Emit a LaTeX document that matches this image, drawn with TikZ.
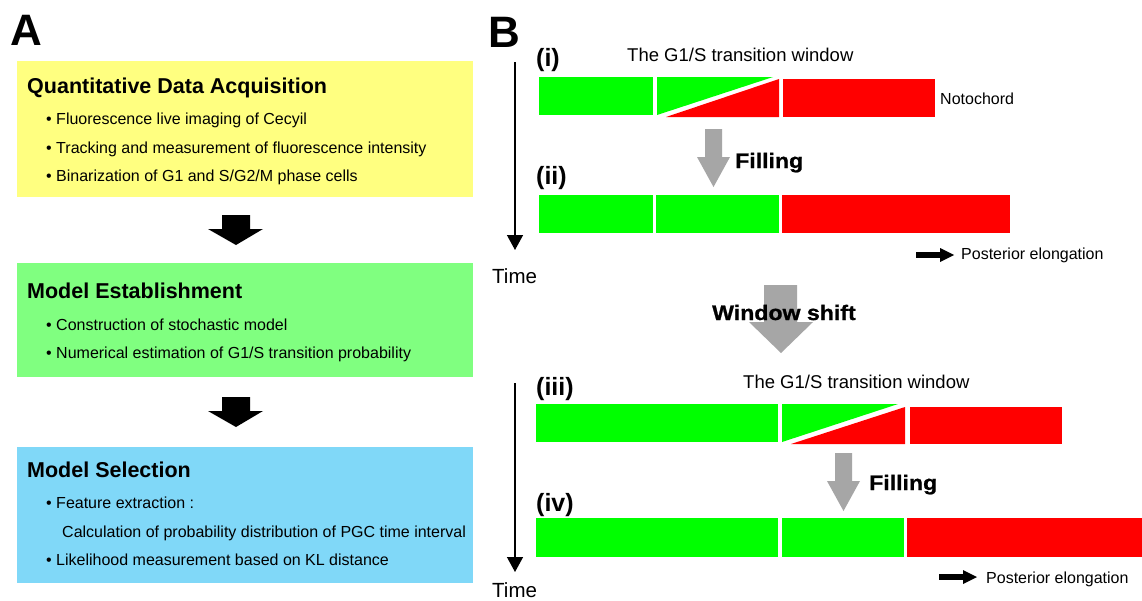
\documentclass[tikz,border=0pt]{standalone}
\usepackage{fontspec}
\setmainfont{Liberation Sans}
\newfontfamily\heavyfont[FakeStretch=1.1,FakeBold=1]{Liberation Sans Bold}
\usetikzlibrary{arrows.meta}
\definecolor{boxyellow}{RGB}{255,255,128}
\definecolor{boxgreen}{RGB}{128,255,128}
\definecolor{boxblue}{RGB}{128,216,248}
\definecolor{cellgreen}{RGB}{0,255,0}
\definecolor{cellred}{RGB}{255,0,0}
\definecolor{arrowgrey}{RGB}{166,166,166}
\tikzset{
  txt/.style={inner sep=0pt, anchor=base west, font=\fontsize{16}{19}\selectfont},
  boxtitle/.style={inner sep=0pt, anchor=base west, font=\fontsize{21.5}{25}\selectfont\bfseries},
  panel/.style={inner sep=0pt, anchor=base west, font=\fontsize{44}{50}\selectfont\bfseries},
  rowlabel/.style={inner sep=0pt, anchor=base west, font=\fontsize{25}{29}\selectfont\bfseries},
  heavylabel/.style={inner sep=0pt, anchor=base west, font=\fontsize{21}{25}\heavyfont},
  windowlabel/.style={inner sep=0pt, anchor=base west, font=\fontsize{18.5}{22}\selectfont},
  timelabel/.style={inner sep=0pt, anchor=base west, font=\fontsize{20.5}{24}\selectfont},
  timearrow/.style={line width=1.4pt, -{Triangle[length=15pt,width=16pt]}},
  blackblock/.style={fill=black},
  greyblock/.style={fill=arrowgrey},
}
\begin{document}
\begin{tikzpicture}[x=1pt,y=-1pt]
\useasboundingbox (0,0) rectangle (1142,600);
\fill[white] (0,0) rectangle (1142,600);

% ---------------- Panel A ----------------
\node[panel] (labA) at (10,45) {A};

\fill[boxyellow] (17,61) rectangle (473,197);
\node[boxtitle] (t1) at (27,93) {Quantitative Data Acquisition};
\node[txt] (b11) at (46,124) {• Fluorescence live imaging of Cecyil};
\node[txt] (b12) at (46,153) {• Tracking and measurement of fluorescence intensity};
\node[txt] (b13) at (46,181) {• Binarization of G1 and S/G2/M phase cells};

\fill[blackblock] (222,215) -- (250,215) -- (250,229) -- (263,229) -- (236,245) -- (208,229) -- (222,229) -- cycle;

\fill[boxgreen] (17,263) rectangle (473,377);
\node[boxtitle] (t2) at (27,298) {Model Establishment};
\node[txt] (b21) at (46,330) {• Construction of stochastic model};
\node[txt] (b22) at (46,358) {• Numerical estimation of G1/S transition probability};

\fill[blackblock] (222,397) -- (250,397) -- (250,411) -- (263,411) -- (236,427) -- (208,411) -- (222,411) -- cycle;

\fill[boxblue] (17,447) rectangle (473,583);
\node[boxtitle] (t3) at (27,477) {Model Selection};
\node[txt] (b31) at (46,508) {• Feature extraction :};
\node[txt] (b32) at (62,537) {Calculation of probability distribution of PGC time interval};
\node[txt] (b33) at (46,565) {• Likelihood measurement based on KL distance};

% ---------------- Panel B ----------------
\node[panel] (labB) at (488,47) {B};

% time axis 1
\coordinate (ta1) at (515,62);
\coordinate (tb1) at (515,250);
\draw[timearrow] (ta1) -- (tb1);
\node[timelabel] (time1) at (492,283) {Time};

% row (i)
\node[rowlabel] (ri) at (536,66) {(i)};
\node[windowlabel] (w1) at (627,61) {The G1/S transition window};
\fill[cellgreen] (539,77) rectangle (653,115);
\fill[cellgreen] (657,77) -- (773,77) -- (657,115) -- cycle;
\fill[cellred] (666,117) -- (779,79) -- (779,117) -- cycle;
\fill[cellred] (783,79) rectangle (935,117);
\node[txt] (noto) at (940,104) {Notochord};

% filling arrow 1
\fill[greyblock] (705,129) -- (722,129) -- (722,157) -- (730,157) -- (713.5,187) -- (697,157) -- (705,157) -- cycle;
\node[heavylabel] (fill1) at (735,168) {Filling};

% row (ii)
\node[rowlabel] (rii) at (536,184) {(ii)};
\fill[cellgreen] (539,195) rectangle (653,233);
\fill[cellgreen] (656,195) rectangle (779,233);
\fill[cellred] (782,195) rectangle (1010,233);

% posterior arrow 1
\fill[black] (916,252) rectangle (941,258);
\fill[black] (940,248) -- (954,255) -- (940,262) -- cycle;
\node[txt] (post1) at (961,259) {Posterior elongation};

% window shift arrow
\fill[greyblock] (764,285) -- (797,285) -- (797,322) -- (813,322) -- (781,353) -- (749,322) -- (764,322) -- cycle;
\node[heavylabel] (shift) at (712,320) {Window shift};

% time axis 2
\coordinate (ta2) at (515,383);
\coordinate (tb2) at (515,572);
\draw[timearrow] (ta2) -- (tb2);
\node[timelabel] (time2) at (492,597) {Time};

% row (iii)
\node[rowlabel] (riii) at (536,395) {(iii)};
\node[windowlabel] (w2) at (743,388) {The G1/S transition window};
\fill[cellgreen] (536,404) rectangle (778,442);
\fill[cellgreen] (782,404) -- (898,404) -- (782,442) -- cycle;
\fill[cellred] (791,444) -- (905,407) -- (905,444) -- cycle;
\fill[cellred] (910,407) rectangle (1062,444);

% filling arrow 2
\fill[greyblock] (835,453) -- (852,453) -- (852,481) -- (860,481) -- (843.5,511) -- (827,481) -- (835,481) -- cycle;
\node[heavylabel] (fill2) at (869,490) {Filling};

% row (iv)
\node[rowlabel] (riv) at (536,511) {(iv)};
\fill[cellgreen] (536,518) rectangle (778,557);
\fill[cellgreen] (782,518) rectangle (904,557);
\fill[cellred] (907,518) rectangle (1142,557);

% posterior arrow 2
\fill[black] (939,574) rectangle (964,580);
\fill[black] (963,570) -- (977,577) -- (963,584) -- cycle;
\node[txt] (post2) at (986,583) {Posterior elongation};
\end{tikzpicture}
\end{document}
